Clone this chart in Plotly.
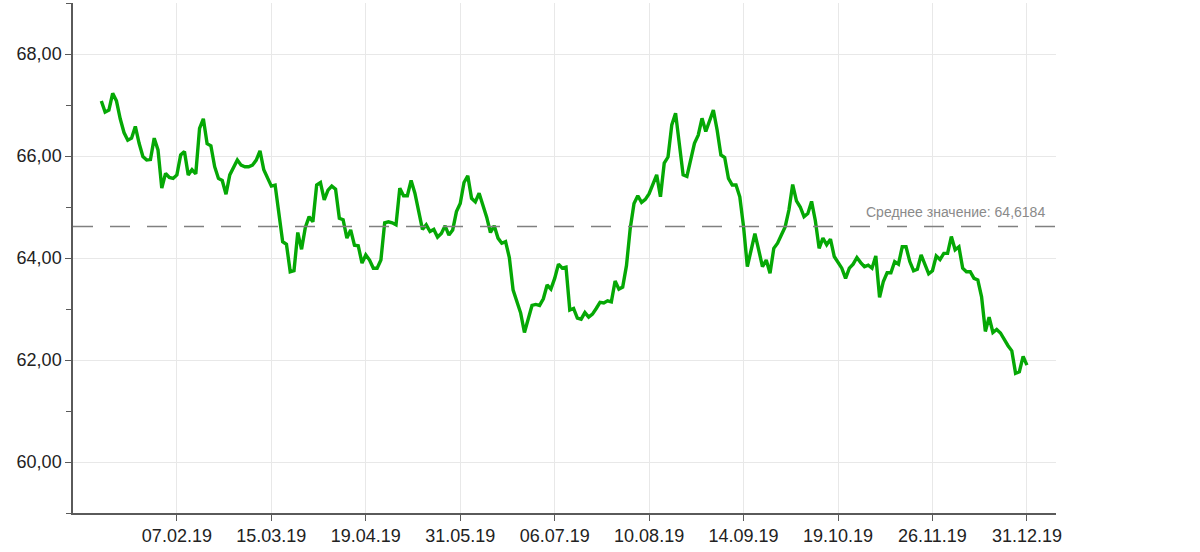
import plotly.graph_objects as go

# курс по торговым дням (10.01.19 - 31.12.19)
rates = [
    67.08, 66.86, 66.90, 67.23, 67.08, 66.73, 66.46, 66.31, 66.35, 66.58,
    66.25, 65.99, 65.92, 65.93, 66.35, 66.12, 65.37, 65.66, 65.58, 65.56,
    65.63, 66.02, 66.09, 65.63, 65.73, 65.65, 66.54, 66.73, 66.24, 66.20,
    65.79, 65.56, 65.52, 65.25, 65.63, 65.78, 65.92, 65.82, 65.79, 65.79,
    65.82, 65.92, 66.10, 65.73, 65.56, 65.41, 65.43, 64.90, 64.32, 64.27,
    63.73, 63.75, 64.50, 64.17, 64.60, 64.81, 64.71, 65.43, 65.48, 65.14,
    65.33, 65.41, 65.35, 64.78, 64.75, 64.39, 64.55, 64.25, 64.24, 63.90,
    64.06, 63.96, 63.80, 63.80, 63.96, 64.69, 64.71, 64.69, 64.65, 65.37,
    65.22, 65.22, 65.52, 65.27, 64.91, 64.56, 64.65, 64.52, 64.56, 64.41,
    64.48, 64.63, 64.45, 64.55, 64.91, 65.07, 65.48, 65.61, 65.17, 65.10,
    65.27, 65.04, 64.80, 64.50, 64.63, 64.39, 64.29, 64.32, 64.01, 63.37,
    63.14, 62.92, 62.54, 62.82, 63.07, 63.09, 63.07, 63.20, 63.47, 63.39,
    63.60, 63.88, 63.80, 63.82, 62.98, 63.01, 62.82, 62.80, 62.93, 62.84,
    62.90, 63.01, 63.13, 63.12, 63.16, 63.14, 63.55, 63.39, 63.43, 63.85,
    64.58, 65.07, 65.22, 65.09, 65.15, 65.26, 65.44, 65.63, 65.20, 65.86,
    65.98, 66.61, 66.84, 66.28, 65.63, 65.60, 65.92, 66.25, 66.41, 66.74,
    66.48, 66.67, 66.90, 66.51, 66.02, 65.97, 65.56, 65.43, 65.43, 65.20,
    64.61, 63.83, 64.16, 64.48, 64.16, 63.83, 63.96, 63.70, 64.19, 64.29,
    64.45, 64.61, 64.94, 65.44, 65.12, 65.00, 64.81, 64.87, 65.11, 64.73,
    64.19, 64.39, 64.26, 64.37, 64.03, 63.90, 63.80, 63.60, 63.80, 63.88,
    64.01, 63.91, 63.83, 63.86, 63.80, 64.04, 63.23, 63.54, 63.71, 63.71,
    63.93, 63.88, 64.22, 64.22, 63.93, 63.75, 63.78, 64.06, 63.86, 63.69,
    63.75, 64.04, 63.97, 64.09, 64.09, 64.42, 64.16, 64.22, 63.80, 63.73,
    63.73, 63.60, 63.57, 63.24, 62.56, 62.84, 62.54, 62.60, 62.53, 62.40,
    62.28, 62.18, 61.74, 61.77, 62.07, 61.90,
]
day_index = list(range(len(rates)))

tick_positions = [20, 45, 70, 95, 120, 145, 170, 195, 220, 245]
tick_labels = ['07.02.19', '15.03.19', '19.04.19', '31.05.19', '06.07.19',
               '10.08.19', '14.09.19', '19.10.19', '26.11.19', '31.12.19']

y_ticks = [60, 62, 64, 66, 68]
y_tick_labels = ['60,00', '62,00', '64,00', '66,00', '68,00']

mean_value = 64.6184
mean_label = 'Среднее значение: 64,6184'

axis_color = '#5a5a5a'
grid_color = '#e8e8e8'

fig = go.Figure(
    go.Scatter(
        x=day_index,
        y=rates,
        mode='lines',
        line=dict(color='#05a805', width=3.4),
        hoverinfo='y',
    )
)

# средняя линия
fig.add_shape(
    type='line', xref='paper', x0=0, x1=1, yref='y', y0=mean_value, y1=mean_value,
    line=dict(color='#808080', width=1.5, dash='20px,17px'),
)
fig.add_annotation(
    xref='paper', x=0.991, yref='y', y=mean_value,
    xanchor='right', yanchor='bottom', yshift=4,
    text=mean_label, showarrow=False,
    font=dict(size=14, color='#8a8a8a'),
)

fig.update_xaxes(
    range=[-7.5, 252.7],
    tickmode='array',
    tickvals=tick_positions,
    ticktext=tick_labels,
    showgrid=True,
    gridcolor=grid_color,
    gridwidth=1,
    showline=True,
    linecolor=axis_color,
    linewidth=1.5,
    ticks='outside',
    ticklen=6,
    tickcolor=axis_color,
    zeroline=False,
)

fig.update_yaxes(
    range=[59, 69],
    tickmode='array',
    tickvals=y_ticks,
    ticktext=y_tick_labels,
    showgrid=True,
    gridcolor=grid_color,
    gridwidth=1,
    showline=True,
    linecolor=axis_color,
    linewidth=1.5,
    ticks='outside',
    ticklen=6,
    tickcolor=axis_color,
    zeroline=False,
    minor=dict(tickmode='linear', tick0=59, dtick=1, ticks='outside', ticklen=5,
               tickcolor=axis_color, showgrid=False),
)

fig.update_layout(
    width=1200,
    height=552,
    paper_bgcolor='white',
    plot_bgcolor='white',
    showlegend=False,
    margin=dict(l=73, r=144, t=3, b=39),
    font=dict(family='Liberation Sans, Arial, sans-serif', size=18, color='#222222'),
)

# убрать отступ body, чтобы график встал в угол окна
fig.write_html("out.html", config={'displayModeBar': False},
               post_script="document.body.style.margin='0';")
